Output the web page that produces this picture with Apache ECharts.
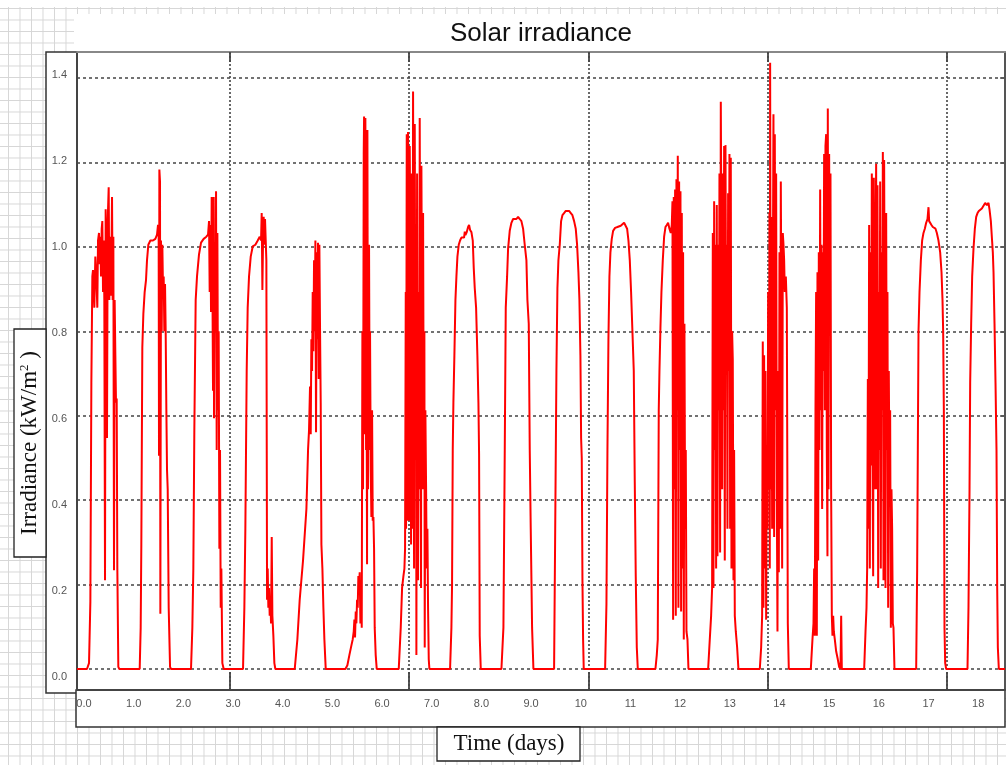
<!DOCTYPE html>
<html>
<head>
<meta charset="utf-8">
<script src="https://cdn.jsdelivr.net/npm/echarts@6/dist/echarts.min.js"></script>
<style>
html,body{margin:0;padding:0;}
body{
  width:1006px;height:765px;overflow:hidden;background-color:#fff;
  background-image:linear-gradient(#d6d6d6 1px, transparent 1px),linear-gradient(90deg,#d6d6d6 1px, transparent 1px);
  background-size:11.5px 11.5px;background-position:8px 8px;
}
#chart{width:1006px;height:765px;}
</style>
</head>
<body>
<div id="chart"></div>
<script>
// ---- tick labels / axis values ----
const xLabelDays = [0,1,2,3,4,5,6,7,8,9,10,11,12,13,14,15,16,17,18];
const xTickLabels = ['0.0','1.0','2.0','3.0','4.0','5.0','6.0','7.0','8.0','9.0','10','11','12','13','14','15','16','17','18'];
const xGridDays = [2.929, 6.543, 10.157, 13.771, 17.375];
const yTickValues = [0,0.2,0.4,0.6,0.8,1.0,1.2,1.4];
const yTickLabels = ['0.0','0.2','0.4','0.6','0.8','1.0','1.2','1.4'];

// ---- irradiance data [time (days), kW/m2], one array per day ----
const day1 = [[-0.141,0],[0.060,0],[0.101,0.014],[0.128,0.159],[0.148,0.678],[0.168,0.930],[0.181,0.945],[0.208,0.856],[0.228,0.977],[0.248,0.930],[0.268,0.856],[0.282,1.015],[0.302,1.033],[0.315,0.959],[0.329,1.024],[0.342,0.930],[0.356,1.043],[0.369,1.061],[0.383,0.893],[0.396,1.015],[0.409,0.874],[0.423,0.210],[0.436,1.089],[0.450,0.893],[0.463,0.547],[0.477,1.061],[0.497,1.141],[0.510,0.874],[0.523,1.024],[0.537,0.884],[0.550,0.949],[0.564,1.118],[0.577,0.874],[0.591,1.024],[0.604,0.234],[0.617,0.874],[0.631,0.743],[0.644,0.631],[0.658,0.641],[0.671,0.238],[0.691,0.005],[0.711,0]];
const day2 = [[1.121,0],[1.141,0.098],[1.154,0.295],[1.174,0.762],[1.195,0.842],[1.221,0.893],[1.248,0.921],[1.268,0.968],[1.295,1.005],[1.336,1.015],[1.389,1.015],[1.436,1.019],[1.470,1.029],[1.490,1.052],[1.503,1.024],[1.510,0.505],[1.517,1.183],[1.530,1.155],[1.537,0.131],[1.550,1.015],[1.564,0.800],[1.577,1.005],[1.591,0.893],[1.604,0.930],[1.617,0.800],[1.631,0.912],[1.644,0.800],[1.658,0.613],[1.671,0.472],[1.685,0.426],[1.705,0.145],[1.732,0.005],[1.752,0]];
const day3 = [[2.154,0],[2.181,0.098],[2.201,0.238],[2.221,0.566],[2.248,0.874],[2.275,0.930],[2.315,0.982],[2.356,1.010],[2.409,1.019],[2.463,1.024],[2.497,1.029],[2.517,1.061],[2.530,0.893],[2.544,1.052],[2.557,0.846],[2.570,1.118],[2.584,0.940],[2.597,0.659],[2.611,1.118],[2.617,0.594],[2.631,1.005],[2.644,0.800],[2.658,1.132],[2.671,0.519],[2.685,1.033],[2.698,0.613],[2.711,0.800],[2.725,0.285],[2.738,0.519],[2.752,0.145],[2.765,0.238],[2.785,0.014],[2.812,0]];
const day4 = [[3.201,0],[3.228,0.145],[3.248,0.332],[3.275,0.706],[3.295,0.856],[3.322,0.930],[3.356,0.977],[3.396,1.001],[3.450,1.005],[3.497,1.015],[3.537,1.024],[3.564,1.015],[3.577,1.080],[3.591,0.898],[3.604,1.015],[3.617,1.071],[3.631,1.005],[3.644,1.066],[3.658,1.015],[3.671,0.968],[3.685,0.164],[3.698,0.238],[3.711,0.145],[3.725,0.192],[3.738,0.126],[3.752,0.164],[3.765,0.108],[3.779,0.313],[3.792,0.126],[3.812,0.079],[3.832,0.014],[3.852,0]];
const day5 = [[4.242,0],[4.295,0.070],[4.342,0.164],[4.409,0.257],[4.477,0.379],[4.510,0.519],[4.530,0.566],[4.550,0.669],[4.564,0.556],[4.577,0.781],[4.591,0.706],[4.604,0.893],[4.617,0.753],[4.631,0.968],[4.644,0.800],[4.658,1.015],[4.671,0.561],[4.685,0.987],[4.698,0.781],[4.711,1.010],[4.725,0.687],[4.738,1.005],[4.752,0.800],[4.765,0.631],[4.779,0.295],[4.799,0.238],[4.819,0.145],[4.839,0.070],[4.866,0]];
const day6 = [[5.262,0],[5.302,0.009],[5.342,0.033],[5.383,0.056],[5.409,0.070],[5.430,0.089],[5.443,0.117],[5.456,0.075],[5.470,0.136],[5.483,0.108],[5.497,0.164],[5.510,0.145],[5.523,0.220],[5.537,0.192],[5.550,0.229],[5.564,0.108],[5.577,0.210],[5.591,0.098],[5.604,0.800],[5.617,0.426],[5.631,1.220],[5.638,1.309],[5.644,0.556],[5.658,0.856],[5.664,1.305],[5.678,0.519],[5.685,0.846],[5.698,0.248],[5.705,1.277],[5.718,0.426],[5.725,0.856],[5.738,1.005],[5.752,0.519],[5.758,0.800],[5.772,0.472],[5.785,0.360],[5.799,0.613],[5.812,0.351],[5.826,0.360],[5.839,0.285],[5.852,0.098],[5.872,0.033],[5.893,0]];
const day7 = [[6.336,0],[6.376,0.098],[6.403,0.192],[6.430,0.220],[6.450,0.238],[6.463,0.285],[6.477,0.893],[6.483,0.332],[6.497,1.267],[6.503,0.613],[6.517,0.351],[6.523,1.272],[6.537,0.800],[6.550,0.351],[6.557,1.239],[6.570,0.987],[6.584,0.295],[6.597,1.174],[6.611,0.332],[6.624,1.368],[6.638,0.706],[6.644,0.238],[6.658,1.291],[6.671,0.613],[6.685,0.987],[6.691,0.033],[6.705,1.174],[6.718,0.519],[6.725,0.210],[6.738,0.893],[6.752,0.426],[6.758,1.305],[6.772,0.613],[6.785,0.192],[6.792,1.192],[6.805,0.800],[6.819,0.426],[6.826,1.080],[6.839,0.519],[6.852,0.800],[6.859,0.051],[6.872,0.613],[6.886,0.435],[6.899,0.238],[6.913,0.332],[6.926,0.145],[6.940,0.023],[6.953,0]];
const day8 = [[7.369,0],[7.396,0.098],[7.409,0.201],[7.423,0.519],[7.436,0.631],[7.456,0.743],[7.477,0.874],[7.497,0.930],[7.517,0.977],[7.544,1.005],[7.570,1.015],[7.597,1.022],[7.624,1.026],[7.651,1.022],[7.665,1.036],[7.678,1.028],[7.705,1.035],[7.732,1.047],[7.752,1.052],[7.772,1.040],[7.799,1.035],[7.826,1.015],[7.846,0.949],[7.866,0.902],[7.893,0.856],[7.919,0.743],[7.940,0.631],[7.953,0.510],[7.966,0.079],[7.987,0]];
const day9 = [[8.403,0],[8.443,0.098],[8.470,0.519],[8.490,0.856],[8.517,0.930],[8.537,0.996],[8.570,1.038],[8.604,1.057],[8.638,1.066],[8.671,1.069],[8.705,1.066],[8.738,1.071],[8.772,1.066],[8.805,1.061],[8.839,1.043],[8.872,1.005],[8.906,0.968],[8.926,0.874],[8.953,0.818],[8.973,0.519],[8.993,0.332],[9.020,0.098],[9.047,0]];
const day10 = [[9.463,0],[9.483,0.295],[9.510,0.706],[9.530,0.902],[9.550,0.968],[9.577,1.005],[9.604,1.061],[9.631,1.075],[9.664,1.080],[9.698,1.085],[9.732,1.088],[9.765,1.085],[9.799,1.080],[9.832,1.075],[9.866,1.061],[9.899,1.043],[9.926,1.005],[9.953,0.940],[9.973,0.874],[9.993,0.743],[10.007,0.547],[10.020,0.500],[10.034,0.210],[10.047,0.070],[10.060,0]];
const day11 = [[10.490,0],[10.517,0.154],[10.537,0.519],[10.557,0.781],[10.577,0.930],[10.597,0.987],[10.624,1.019],[10.651,1.038],[10.691,1.045],[10.738,1.047],[10.772,1.043],[10.805,1.050],[10.839,1.052],[10.872,1.057],[10.906,1.057],[10.933,1.043],[10.960,1.015],[10.987,0.968],[11.013,0.893],[11.040,0.800],[11.067,0.706],[11.087,0.444],[11.107,0.220],[11.128,0.051],[11.148,0]];
const day12 = [[11.503,0],[11.530,0.033],[11.550,0.070],[11.570,0.613],[11.584,0.706],[11.604,0.809],[11.624,0.893],[11.651,0.968],[11.678,1.024],[11.705,1.047],[11.732,1.052],[11.758,1.057],[11.785,1.043],[11.812,1.033],[11.832,1.052],[11.846,1.108],[11.859,0.117],[11.872,1.118],[11.886,0.426],[11.899,1.136],[11.913,0.126],[11.926,1.160],[11.940,0.613],[11.953,1.216],[11.966,0.145],[11.980,1.155],[11.993,0.519],[12.007,1.132],[12.020,0.136],[12.034,1.080],[12.047,0.238],[12.060,0.987],[12.074,0.070],[12.087,0.818],[12.101,0.332],[12.114,0.519],[12.128,0.089],[12.148,0.070],[12.168,0]];
const day13 = [[12.564,0],[12.597,0.070],[12.624,0.126],[12.644,0.192],[12.658,1.033],[12.671,0.192],[12.685,1.108],[12.698,0.519],[12.711,1.005],[12.725,0.238],[12.738,1.099],[12.752,0.267],[12.765,1.005],[12.779,0.613],[12.792,1.174],[12.805,0.276],[12.819,1.344],[12.832,1.005],[12.846,0.426],[12.859,1.174],[12.872,0.613],[12.886,1.239],[12.899,0.257],[12.913,1.241],[12.926,0.800],[12.940,1.005],[12.953,0.332],[12.966,1.127],[12.980,0.706],[12.993,1.220],[13.007,0.332],[13.020,1.211],[13.034,0.238],[13.047,0.800],[13.060,0.734],[13.074,0.210],[13.087,0.519],[13.101,0.126],[13.121,0.089],[13.148,0.051],[13.174,0]];
const day14 = [[13.604,0],[13.631,0.051],[13.651,0.126],[13.664,0.776],[13.678,0.145],[13.691,0.743],[13.705,0.238],[13.718,0.706],[13.732,0.117],[13.745,0.519],[13.758,0.332],[13.772,0.893],[13.785,0.426],[13.799,1.080],[13.805,0.238],[13.812,1.436],[13.826,0.426],[13.839,1.071],[13.852,0.332],[13.866,0.893],[13.879,1.314],[13.893,0.313],[13.906,1.267],[13.919,0.613],[13.933,1.174],[13.946,0.426],[13.960,0.089],[13.973,0.706],[13.987,0.229],[14.000,0.987],[14.013,0.332],[14.027,1.155],[14.040,0.800],[14.054,0.238],[14.067,1.033],[14.081,1.005],[14.094,0.968],[14.107,0.893],[14.128,0.930],[14.148,0.856],[14.168,0.108],[14.188,0]];
const day15 = [[14.631,0],[14.664,0.070],[14.685,0.108],[14.698,0.238],[14.711,0.079],[14.725,0.613],[14.738,0.893],[14.752,0.079],[14.765,0.940],[14.779,0.257],[14.792,0.987],[14.805,0.519],[14.819,1.136],[14.832,0.613],[14.846,1.005],[14.859,0.379],[14.872,0.987],[14.886,0.706],[14.899,1.220],[14.913,0.613],[14.926,1.239],[14.940,1.267],[14.953,0.519],[14.966,0.267],[14.973,1.328],[14.987,0.426],[15.000,1.220],[15.013,0.800],[15.027,1.174],[15.040,0.426],[15.054,0.126],[15.067,0.079],[15.081,0.126],[15.094,0.089],[15.114,0.070],[15.141,0.042],[15.174,0.023],[15.201,0.005],[15.228,0],[15.242,0.126],[15.255,0]];
const day16 = [[15.705,0],[15.732,0.089],[15.752,0.145],[15.765,0.238],[15.779,0.687],[15.792,0.332],[15.805,1.052],[15.819,0.238],[15.832,0.987],[15.846,0.482],[15.859,1.174],[15.872,0.519],[15.886,0.220],[15.899,1.164],[15.913,0.706],[15.926,0.426],[15.940,1.080],[15.946,1.197],[15.960,0.426],[15.973,1.146],[15.987,0.192],[16.000,0.893],[16.013,0.519],[16.027,1.155],[16.040,0.238],[16.054,0.987],[16.067,0.613],[16.081,1.225],[16.094,0.210],[16.107,1.206],[16.121,0.706],[16.134,0.192],[16.148,1.080],[16.161,0.519],[16.174,0.893],[16.188,0.145],[16.201,0.706],[16.215,0.426],[16.228,0.613],[16.242,0.098],[16.255,0.426],[16.268,0.332],[16.282,0.108],[16.295,0.098],[16.315,0]];
const day17 = [[16.752,0],[16.772,0.238],[16.785,0.519],[16.799,0.800],[16.819,0.893],[16.846,0.968],[16.872,1.015],[16.899,1.033],[16.926,1.043],[16.953,1.057],[16.980,1.066],[17.000,1.094],[17.013,1.061],[17.034,1.057],[17.060,1.052],[17.087,1.047],[17.114,1.043],[17.141,1.043],[17.168,1.033],[17.201,1.015],[17.235,0.987],[17.262,0.940],[17.282,0.874],[17.295,0.800],[17.309,0.613],[17.322,0.098],[17.336,0.014],[17.356,0]];
const day18 = [[17.785,0],[17.805,0.145],[17.826,0.426],[17.839,0.678],[17.859,0.818],[17.879,0.930],[17.906,0.996],[17.933,1.043],[17.960,1.071],[17.987,1.080],[18.013,1.085],[18.040,1.088],[18.074,1.091],[18.107,1.094],[18.141,1.104],[18.174,1.099],[18.208,1.104],[18.228,1.089],[18.255,1.061],[18.275,1.024],[18.295,0.987],[18.309,0.940],[18.329,0.818],[18.349,0.678],[18.369,0.519],[18.383,0.192],[18.396,0.051],[18.416,0],[18.54,0]];

const irradiance = [].concat(day1,day2,day3,day4,day5,day6,day7,day8,day9,day10,day11,day12,day13,day14,day15,day16,day17,day18);

const chart = echarts.init(document.getElementById('chart'), null, {renderer:'canvas'});
const serif = '"Liberation Serif","Times New Roman",serif';
const sans = '"Liberation Sans",Arial,sans-serif';

const option = {
  animation:false,
  backgroundColor:'transparent',
  title:{
    text:'Solar irradiance', left:536, top:16, textAlign:'center',
    textStyle:{fontFamily:sans, fontSize:26, fontWeight:'normal', color:'#111'}
  },
  grid:{left:77, top:52, right:1, bottom:75, show:true, backgroundColor:'#fff', borderWidth:0, outerBoundsMode:'none'},
  xAxis:[
    {type:'value', position:'bottom', min:-0.141, max:18.54,
     axisLine:{show:true, onZero:false, lineStyle:{color:'#444', width:2}},
     axisTick:{show:true, inside:true, length:18, customValues:xGridDays, lineStyle:{color:'#444', width:1.8}},
     axisLabel:{show:true, customValues:xLabelDays, margin:8, color:'#555', fontFamily:sans, fontSize:11,
                formatter:v=>xTickLabels[xLabelDays.indexOf(Math.round(v))]},
     splitLine:{show:true, lineStyle:{color:'#444', width:1.6, type:[2,2]}}},
    {type:'value', position:'top', min:-0.141, max:18.54,
     axisLine:{show:true, onZero:false, lineStyle:{color:'#888', width:2}},
     axisTick:{show:true, inside:true, length:10, customValues:xGridDays, lineStyle:{color:'#444', width:1.8}},
     axisLabel:{show:false}, splitLine:{show:false}}
  ],
  yAxis:[
    {type:'value', position:'left', min:-0.0497, max:1.4616,
     axisLine:{show:true, onZero:false, lineStyle:{color:'#444', width:2}},
     axisTick:{show:false, customValues:yTickValues},
     axisLabel:{show:false},
     splitLine:{show:true, lineStyle:{color:'#444', width:1.5, type:[3,3]}}},
    {type:'value', position:'right', min:-0.0497, max:1.4616,
     axisLine:{show:true, onZero:false, lineStyle:{color:'#555', width:2}},
     axisTick:{show:true, inside:true, length:5, customValues:yTickValues, lineStyle:{color:'#555', width:1.5}},
     axisLabel:{show:false}, splitLine:{show:false}},
    {type:'value', position:'left', min:-0.0302, max:1.4535,
     axisLine:{show:false}, axisTick:{show:false}, splitLine:{show:false},
     axisLabel:{show:true, customValues:yTickValues, margin:10, color:'#555', fontFamily:sans, fontSize:11,
                formatter:v=>yTickLabels[Math.round(v*5)]}}
  ],
  graphic:[
    {type:'rect', z:-10, shape:{x:0,y:0,width:1006,height:7}, style:{fill:'#fff'}},
    {type:'rect', z:-10, shape:{x:74,y:14,width:932,height:38}, style:{fill:'#fff'}},
    {type:'rect', z:-1, shape:{x:46,y:52,width:31,height:641}, style:{fill:'#fff', stroke:'#333', lineWidth:1.5}},
    {type:'rect', z:-1, shape:{x:76,y:690,width:929,height:37}, style:{fill:'#fff', stroke:'#333', lineWidth:1.5}},
    {type:'rect', z:10, shape:{x:14,y:329,width:32,height:228}, style:{fill:'#fff', stroke:'#222', lineWidth:1.3}},
    {type:'text', z:11, x:30, y:443, rotation:Math.PI/2,
     style:{text:'{a|Irradiance (kW/m}{s|2}{a| )}', align:'center', verticalAlign:'middle',
            rich:{a:{fontSize:23, fontFamily:serif, fill:'#111'},
                  s:{fontSize:13, fontFamily:serif, fill:'#111', verticalAlign:'top'}}}},
    {type:'rect', z:10, shape:{x:437,y:727,width:143,height:34}, style:{fill:'#fff', stroke:'#222', lineWidth:1.3}},
    {type:'text', z:11, x:509, y:744,
     style:{text:'Time (days)', align:'center', verticalAlign:'middle', fontSize:23, fontFamily:serif, fill:'#111'}}
  ],
  series:[{
    type:'line', xAxisIndex:0, yAxisIndex:0, data:irradiance,
    showSymbol:false, symbol:'none', clip:false, smooth:false,
    lineStyle:{color:'#ff0000', width:2}, z:5
  }]
};
chart.setOption(option);
</script>
</body>
</html>
